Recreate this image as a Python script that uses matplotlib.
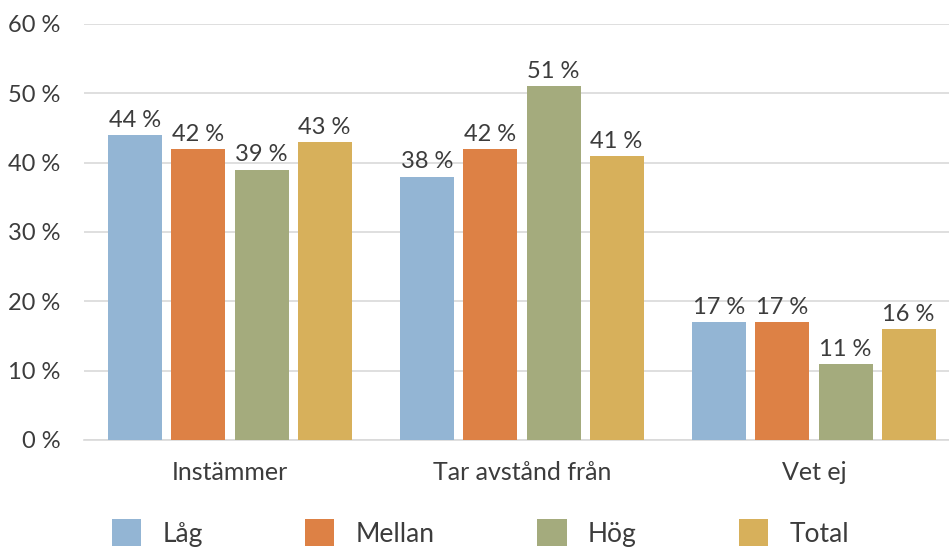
import matplotlib
matplotlib.use("Agg")
import matplotlib.pyplot as plt
import numpy as np

categories = ["Instämmer", "Tar avstånd från", "Vet ej"]
series_names = ["Låg", "Mellan", "Hög", "Total"]
lag = [44, 38, 17]
mellan = [42, 42, 17]
hog = [39, 51, 11]
total = [43, 41, 16]
yticks = [0, 10, 20, 30, 40, 50, 60]

colors = ["#93B5D4", "#DD8145", "#A4AB7D", "#D7B05B"]
text_color = "#3C3C3C"

plt.rcParams['font.family'] = ['Lato', 'DejaVu Sans']

fig = plt.figure(figsize=(9.49, 5.51), dpi=100)
ax = fig.add_axes([84/949, 111/551, 876/949, 416/551])

x = np.arange(len(categories))
width = 0.185
step = 0.216
for i, (name, vals) in enumerate(zip(series_names, [lag, mellan, hog, total])):
    pos = x + (i - 1.5) * step
    bars = ax.bar(pos, vals, width, color=colors[i], label=name, zorder=3)
    for b, v in zip(bars, vals):
        ax.annotate(f"{v} %", (b.get_x() + b.get_width()/2, v),
                    xytext=(0, 3), textcoords="offset points",
                    ha="center", va="bottom", fontsize=17, color=text_color)

ax.set_xlim(-0.5, 2.5)
ax.set_ylim(0, 60)
ax.set_yticks(yticks)
ax.set_yticklabels([f"{t} %" for t in yticks])
ax.set_xticks(x)
ax.set_xticklabels(categories)
ax.tick_params(axis='y', length=0, pad=17, labelsize=17, labelcolor=text_color)
ax.tick_params(axis='x', length=0, pad=15, labelsize=18, labelcolor=text_color)
ax.grid(axis='y', color="#D9D9D9", linewidth=1.2, zorder=0)
for s in ["top", "right", "left"]:
    ax.spines[s].set_visible(False)
ax.spines["bottom"].set_color("#D9D9D9")
ax.spines["bottom"].set_linewidth(1.2)

leg = fig.legend(loc="center left", bbox_to_anchor=(112/949, 1 - 533/551), ncol=4,
                 frameon=False, fontsize=19, handlelength=1.1, handleheight=1.15,
                 handletextpad=0.8, columnspacing=3.9, borderpad=0, borderaxespad=0)
for t in leg.get_texts():
    t.set_color(text_color)

fig.savefig("out.png", dpi=100)
